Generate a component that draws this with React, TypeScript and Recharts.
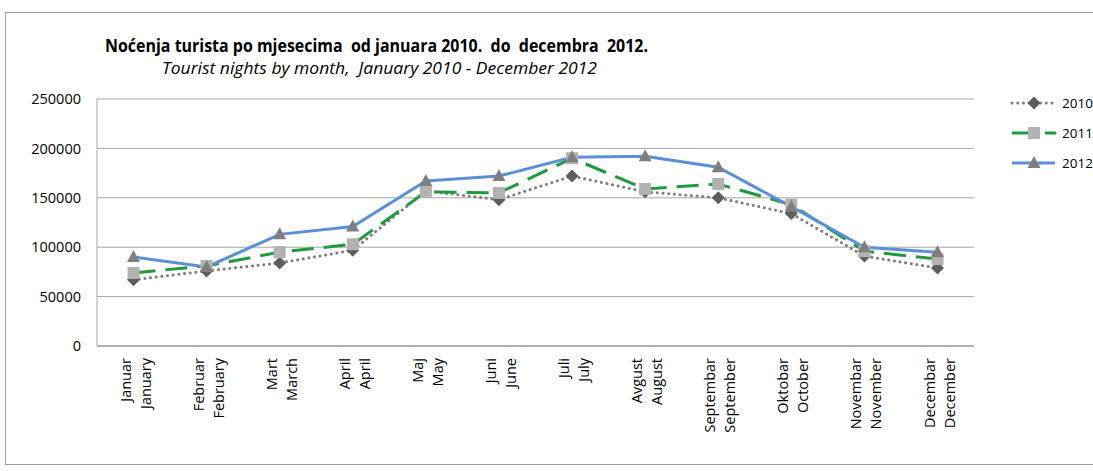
import React from 'react';
import { LineChart, Line, XAxis, YAxis, CartesianGrid } from 'recharts';

// month labels (local / english)
const monthsBs = ['Januar', 'Februar', 'Mart', 'April', 'Maj', 'Juni', 'Juli', 'Avgust', 'Septembar', 'Oktobar', 'Novembar', 'Decembar'];
const monthsEn = ['January', 'February', 'March', 'April', 'May', 'June', 'July', 'August', 'September', 'October', 'November', 'December'];

// tourist nights
const nights2010 = [67000, 76000, 84000, 97000, 157000, 148000, 172000, 156000, 150000, 134000, 91000, 79000];
const nights2011 = [74000, 81000, 95000, 103000, 156000, 155000, 190000, 159000, 164000, 143000, 96000, 88000];
const nights2012 = [90000, 80000, 113000, 121000, 167000, 172000, 191000, 192000, 181000, 141000, 100000, 95000];

const yTicks = [0, 50000, 100000, 150000, 200000, 250000];

const data = monthsBs.map((m, i) => ({
  month: m,
  en: monthsEn[i],
  y2010: nights2010[i],
  y2011: nights2011[i],
  y2012: nights2012[i],
}));

const FONT = '"Open Sans", sans-serif';
const GRID = '#a6a6a6';

const Diamond = (p: any) => {
  const { cx, cy } = p;
  if (cx == null || cy == null) return null;
  const r = 6.5;
  return <path key={`d${p.index}`} d={`M${cx},${cy - r}L${cx + r},${cy}L${cx},${cy + r}L${cx - r},${cy}Z`} fill="#5e5e5e" />;
};

const Square = (p: any) => {
  const { cx, cy } = p;
  if (cx == null || cy == null) return null;
  const s = 12;
  return <rect key={`s${p.index}`} x={cx - s / 2} y={cy - s / 2} width={s} height={s} fill="#b2b2b2" />;
};

const Triangle = (p: any) => {
  const { cx, cy } = p;
  if (cx == null || cy == null) return null;
  return <path key={`t${p.index}`} d={`M${cx},${cy - 7}L${cx + 6.5},${cy + 5}L${cx - 6.5},${cy + 5}Z`} fill="#7f7f7f" />;
};

const series = [
  { key: 'y2010', name: '2010', stroke: '#7f7f7f', dash: '0.1 5.6', cap: 'round' as const, dot: Diamond },
  { key: 'y2011', name: '2011', stroke: '#1f9a3c', dash: '22 10', cap: 'butt' as const, dot: Square },
  { key: 'y2012', name: '2012', stroke: '#5b8fd8', dash: undefined, cap: 'butt' as const, dot: Triangle },
];

const MonthTick = (props: any) => {
  const { x, y, payload } = props;
  const i = payload.index;
  return (
    <g>
      <text transform={`translate(${x - 8},${y}) rotate(-90)`} textAnchor="end" dy="0.35em" fontSize={14.5} fontFamily={FONT} fill="#000">
        {monthsBs[i]}
      </text>
      <text transform={`translate(${x + 12},${y}) rotate(-90)`} textAnchor="end" dy="0.35em" fontSize={14.5} fontFamily={FONT} fill="#000">
        {monthsEn[i]}
      </text>
    </g>
  );
};

const LegendBox = () => (
  <div style={{ position: 'absolute', left: 1010, top: 88 }}>
    {series.map((s) => {
      const Marker = s.dot;
      return (
        <div key={s.key} style={{ display: 'flex', alignItems: 'center', height: 30 }}>
          <svg width={50} height={18} style={{ overflow: 'visible' }}>
            <line x1={2} y1={9} x2={45} y2={9} stroke={s.stroke} strokeWidth={3} strokeDasharray={s.key === 'y2011' ? '22 11' : s.dash} strokeLinecap={s.cap} />
            {s.key === 'y2011' && <circle cx={45} cy={9} r={1.5} fill={s.stroke} />}
            <Marker cx={24} cy={9} index={0} />
          </svg>
          <span style={{ fontFamily: FONT, fontSize: 13.5, marginLeft: 2, whiteSpace: 'nowrap' }}>{s.name}</span>
        </div>
      );
    })}
  </div>
);

export default function App() {
  return (
    <div style={{ position: 'relative', width: 1093, height: 471, overflow: 'hidden', background: '#fff' }}>
      <style>{'html,body{margin:0;padding:0;overflow:hidden}'}</style>
      <div style={{ position: 'absolute', left: 5, top: 12, width: 1200, height: 451, border: '1px solid #a0a0a0' }} />
      <svg width={1093} height={90} style={{ position: 'absolute', left: 0, top: 0 }}>
        <text x={376.5} y={52} textAnchor="middle" fontFamily={FONT} fontWeight="bold" fontSize={17} textLength={543} lengthAdjust="spacingAndGlyphs" style={{ whiteSpace: 'pre' }}>
          {'Noćenja turista po mjesecima  od januara 2010.  do  decembra  2012.'}
        </text>
        <text x={379.5} y={74} textAnchor="middle" fontFamily={FONT} fontStyle="italic" fontSize={15.5} textLength={435} lengthAdjust="spacingAndGlyphs" style={{ whiteSpace: 'pre' }}>
          {'Tourist nights by month,  January 2010 - December 2012'}
        </text>
      </svg>
      <LineChart
        width={1093}
        height={471}
        data={data}
        margin={{ top: 99, right: 119, left: 27, bottom: 13 }}
        style={{ position: 'absolute', left: 0, top: 0 }}
      >
        <CartesianGrid vertical={false} stroke={GRID} strokeWidth={1} />
        <XAxis
          dataKey="month"
          interval={0}
          padding={{ left: 36.5, right: 36.5 }}
          tickLine={false}
          axisLine={{ stroke: GRID, strokeWidth: 1.5 }}
          height={112}
          tick={<MonthTick />}
          tickMargin={6}
        />
        <YAxis
          domain={[0, 250000]}
          ticks={yTicks}
          width={70}
          tickLine={false}
          axisLine={{ stroke: GRID, strokeWidth: 1 }}
          tickMargin={10}
          tick={{ fontSize: 14.5, fontFamily: FONT, fill: '#000' }}
          interval={0}
        />
        {series.map((s) => (
          <Line
            key={s.key}
            dataKey={s.key}
            name={s.name}
            type="linear"
            stroke={s.stroke}
            strokeWidth={3}
            strokeDasharray={s.dash}
            strokeLinecap={s.cap}
            dot={s.dot}
            activeDot={false}
            isAnimationActive={false}
          />
        ))}
      </LineChart>
      <LegendBox />
    </div>
  );
}
